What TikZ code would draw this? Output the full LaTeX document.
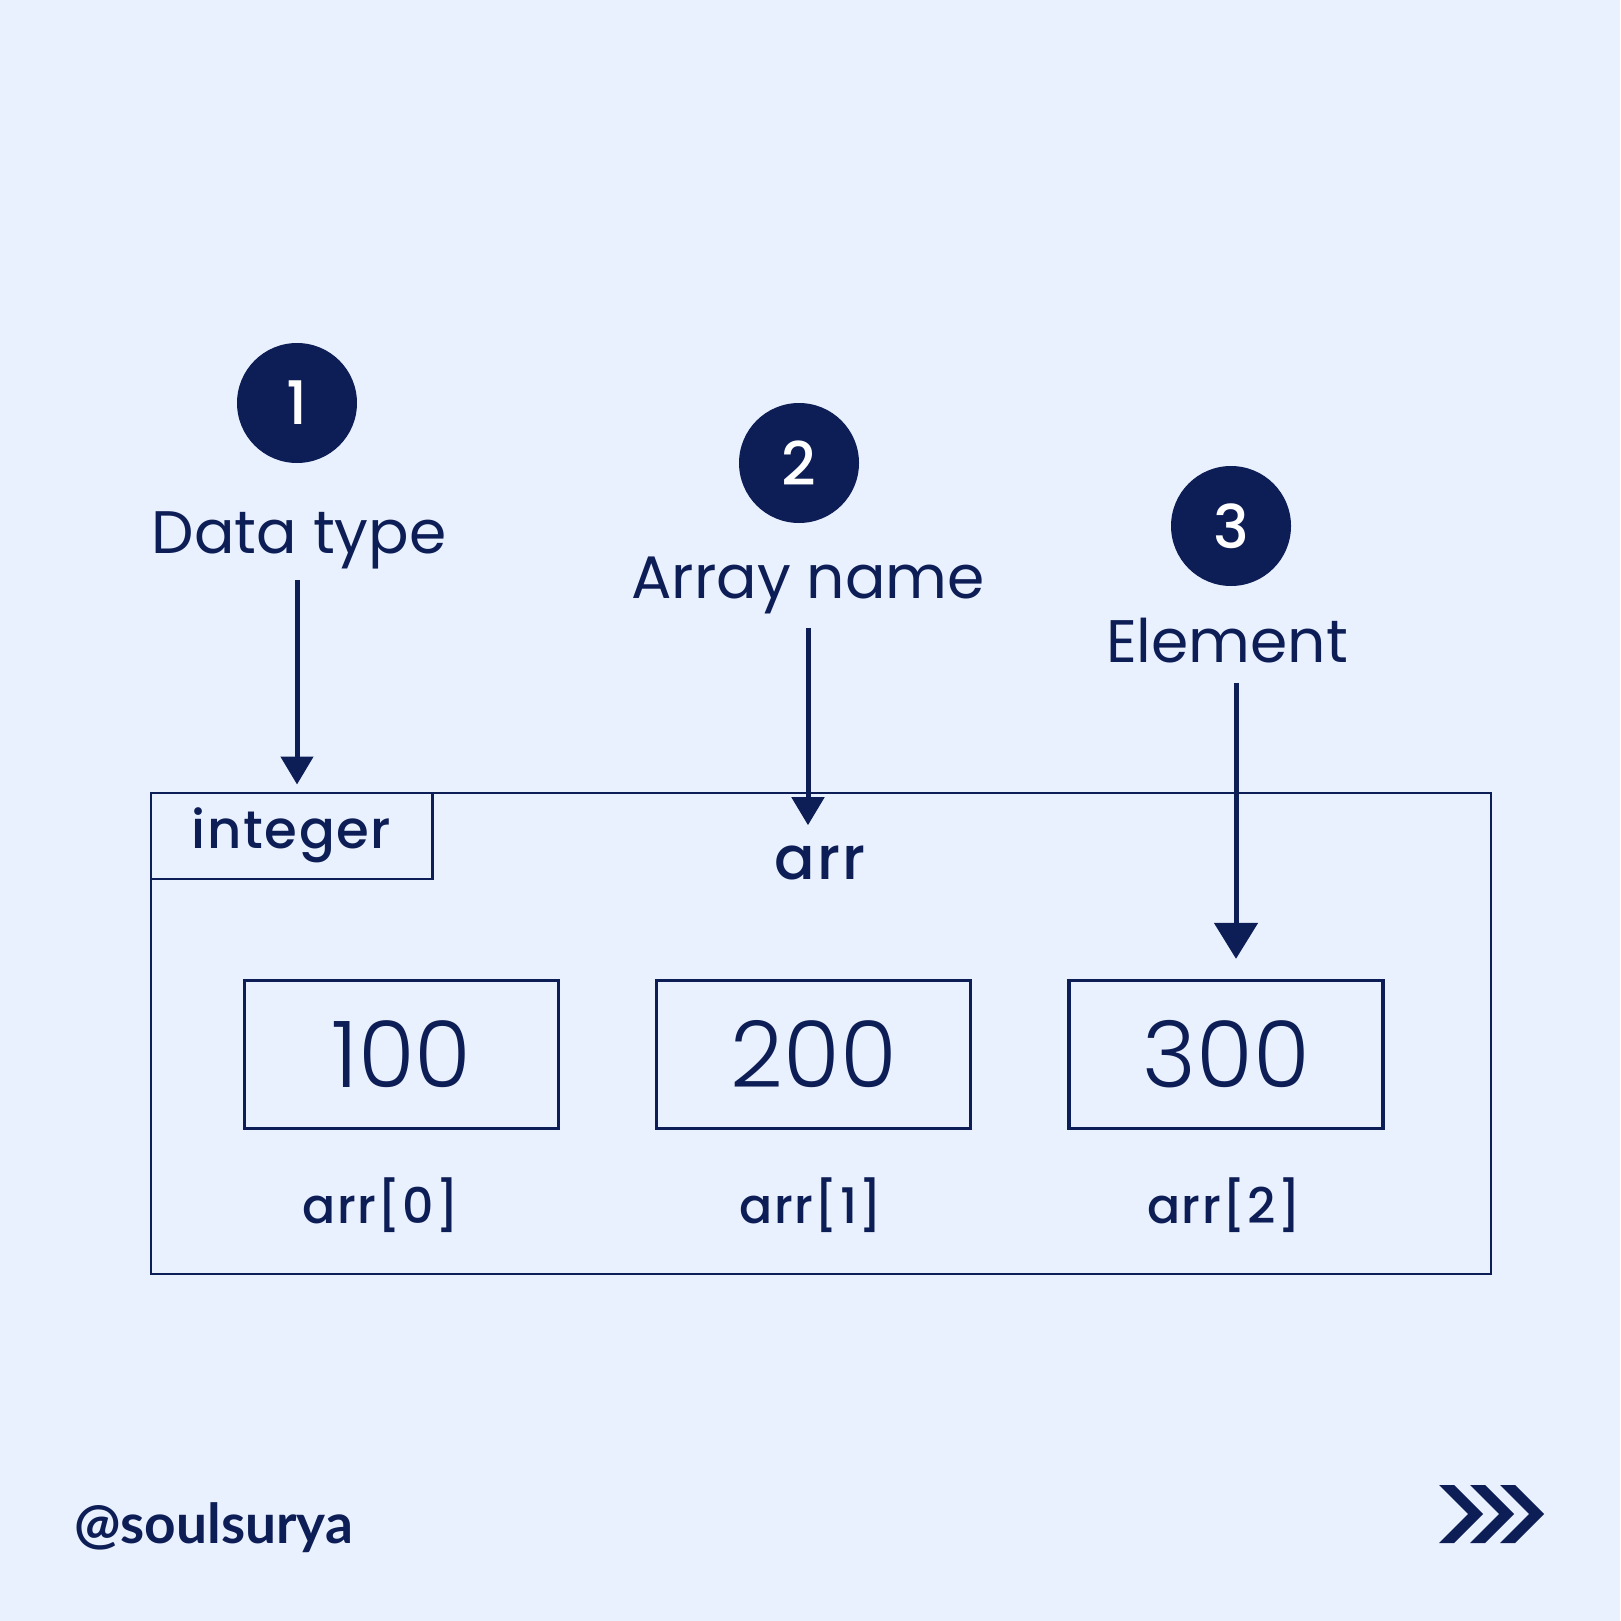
\documentclass[tikz,border=0pt]{standalone}
\usepackage{fontspec}
\setmainfont{Poppins}
\newfontfamily\popmed{Poppins}[UprightFont={* Medium}]
\newfontfamily\popmedsp{Poppins}[UprightFont={* Medium},LetterSpace=3]
\newfontfamily\poplight{Poppins}[UprightFont={* Light}]
\newfontfamily\handlefont{Lato}
\usepackage{tikz}
\usetikzlibrary{positioning,arrows.meta}
\definecolor{navy}{RGB}{13,30,86}
\definecolor{paper}{RGB}{234,241,254}

\begin{document}
\begin{tikzpicture}[
  x=1pt, y=-1pt,
  badge/.style={circle, fill=navy, text=white, minimum size=120pt, inner sep=0pt,
                font=\popmed\fontsize{60}{60}\selectfont},
  caption/.style={text=navy, inner sep=0pt, anchor=base,
                  font=\fontsize{60}{60}\selectfont},
  cell/.style={draw=navy, line width=3.3pt, minimum width=314pt, minimum height=148pt,
               inner sep=0pt, text=navy, font=\poplight\fontsize{92}{92}\selectfont},
  index/.style={text=navy, inner sep=0pt, anchor=base,
                font=\popmedsp\fontsize{49}{49}\selectfont},
  pointer/.style={draw=navy, line width=5pt, -{Triangle[length=28pt,width=32pt]}}
]
  \fill[paper] (0,0) rectangle (1620,1621);

  % numbered badges and their captions
  \node[badge] (b1) at (297,403)  {1};
  \node[badge] (b2) at (799,463)  {2};
  \node[badge] (b3) at (1231,526) {3};
  \node[caption] (dtype) at (299,553)  {Data type};
  \node[caption] (aname) at (808,598)  {Array name};
  \node[caption] (elem)  at (1227,662) {Element};

  % array frame
  \node[draw=navy, line width=2.5pt, minimum width=1340pt, minimum height=481pt,
        inner sep=0pt, anchor=north west] (frame) at (149.5,791.5) {};
  \node[draw=navy, line width=2.5pt, minimum width=281.5pt, minimum height=86pt,
        inner sep=0pt, anchor=north west, text=navy,
        font=\popmedsp\fontsize{53}{53}\selectfont] (tag) at (149.5,791.5) {integer};
  \node[text=navy, inner sep=0pt, anchor=base,
        font=\popmedsp\fontsize{60}{60}\selectfont] (arrid) at (820,879) {arr};

  % elements
  \node[cell] (c0) at (401.5,1054.5) {100};
  \node[cell, right=95pt of c0] (c1) {200};
  \node[cell, right=95pt of c1] (c2) {300};
  \node[index] (i0) at (381,1223)  {arr[0]};
  \node[index] (i1) at (811,1223)  {arr[1]};
  \node[index] (i2) at (1224,1223) {arr[2]};

  \draw[pointer, shorten <=11pt, shorten >=7pt] (b1 |- dtype.south) -- (b1 |- frame.north);
  \draw[pointer, shorten <=14pt, shorten >=20pt] (aname.south) -- (aname.south |- arrid.north);
  \draw[pointer, -{Triangle[length=36pt,width=43pt]}, shorten <=20pt, shorten >=20pt]
    ([xshift=9pt]elem.south) -- ([xshift=9pt]elem.south |- c2.north);

  % footer
  \node[text=navy, anchor=base west, inner sep=0pt,
        font=\handlefont\bfseries\fontsize{55}{55}\selectfont] (handle) at (74,1543) {@soulsurya};
  \foreach \cx in {1439,1470,1500}
    \fill[navy] (\cx,1485) -- ++(15,0) -- ++(29,29) -- ++(-29,29) -- ++(-15,0) -- ++(29,-29) -- cycle;
\end{tikzpicture}
\end{document}
